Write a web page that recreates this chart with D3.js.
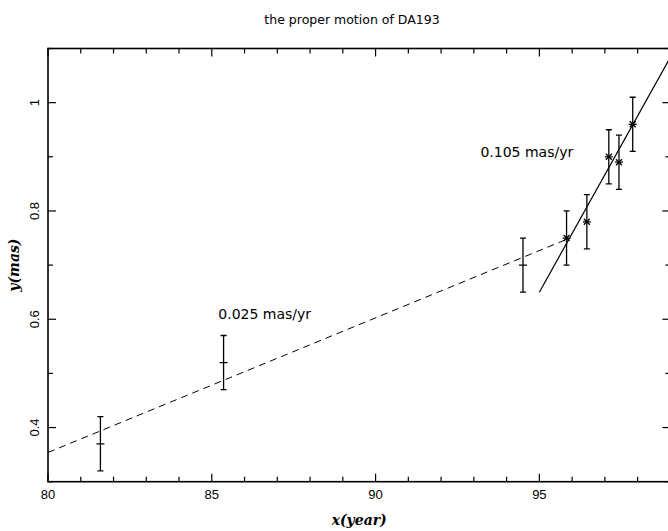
<!DOCTYPE html>
<html>
<head>
<script src="https://d3js.org/d3.v7.js"></script>
<style>
  body { margin: 0; background: #fff; }
  text { font-family: "Liberation Sans", Arial, sans-serif; fill: #000; }
  .note { font-family: "DejaVu Sans", sans-serif; }
  .axtitle { font-family: "DejaVu Serif", serif; font-style: italic; font-weight: bold; font-size: 14px; }
</style>
</head>
<body>
<script>
// measurements (year, mas) with +/- error
const years = [81.6, 85.36, 94.5, 95.83, 96.45, 97.12, 97.43, 97.85]
const mas = [0.37, 0.52, 0.70, 0.75, 0.78, 0.90, 0.89, 0.96]
const errs = [0.05, 0.05, 0.05, 0.05, 0.05, 0.05, 0.05, 0.05]
const markers = ['+', '+', '+', '*', '*', '*', '*', '*']

// fitted lines
const slowFit = [[80, 0.354], [95.93, 0.75]]
const fastFit = [[95, 0.65], [99, 1.084]]

const labels = [
  { x: 85.2, y: 0.6, text: '0.025 mas/yr' },
  { x: 93.2, y: 0.9, text: '0.105 mas/yr' }
]

const xMajor = [80, 85, 90, 95]
const yMajor = [0.4, 0.6, 0.8, 1]

const w = 668, h = 531
const x = d3.scaleLinear().domain([80, 99]).range([48, 670.4])
const y = d3.scaleLinear().domain([0.3, 1.1]).range([481.7, 48.5])

const svg = d3.select('body').append('svg').attr('width', w).attr('height', h)

const x0 = x.range()[0], x1 = x.range()[1]
const y0 = y.range()[0], y1 = y.range()[1]

svg.append('defs').append('clipPath').attr('id', 'clip')
  .append('rect').attr('x', x0).attr('y', y1).attr('width', x1 - x0).attr('height', y0 - y1)

// ticks, pointing inward on all sides
const xMinor = d3.range(80, 100, 1)
const yMinor = d3.range(3, 12, 1).map(d => d / 10)
const ticks = svg.append('g').attr('stroke', '#000').attr('stroke-width', 1.2)
xMinor.forEach(v => {
  const len = xMajor.includes(v) ? 8 : 5
  ticks.append('line').attr('x1', x(v)).attr('x2', x(v)).attr('y1', y0).attr('y2', y0 - len)
  ticks.append('line').attr('x1', x(v)).attr('x2', x(v)).attr('y1', y1).attr('y2', y1 + len)
})
yMinor.forEach(v => {
  const len = yMajor.some(m => Math.abs(m - v) < 1e-6) ? 8 : 5
  ticks.append('line').attr('y1', y(v)).attr('y2', y(v)).attr('x1', x0).attr('x2', x0 + len)
  ticks.append('line').attr('y1', y(v)).attr('y2', y(v)).attr('x1', x1).attr('x2', x1 - len)
})

svg.append('rect').attr('x', x0).attr('y', y1).attr('width', x1 - x0).attr('height', y0 - y1)
  .attr('fill', 'none').attr('stroke', '#000').attr('stroke-width', 1.6)

// tick labels
svg.selectAll('.xl').data(xMajor).enter().append('text')
  .attr('x', d => x(d)).attr('y', 499).attr('text-anchor', 'middle')
  .attr('font-size', 13).text(d => d)
svg.selectAll('.yl').data(yMajor).enter().append('text')
  .attr('transform', d => `translate(39,${y(d)}) rotate(-90)`)
  .attr('text-anchor', 'middle').attr('font-size', 13).text(d => d)

// titles
svg.append('text').attr('class', 'note').attr('x', 352).attr('y', 24).attr('text-anchor', 'middle')
  .attr('font-size', 12.5).text('the proper motion of DA193')
svg.append('text').attr('class', 'axtitle').attr('x', (x0 + x1) / 2).attr('y', 525)
  .attr('text-anchor', 'middle').text('x(year)')
svg.append('text').attr('class', 'axtitle')
  .attr('transform', `translate(19,${(y0 + y1) / 2}) rotate(-90)`)
  .attr('text-anchor', 'middle').text('y(mas)')

const plot = svg.append('g').attr('clip-path', 'url(#clip)')
const line = d3.line().x(d => x(d[0])).y(d => y(d[1]))

plot.append('path').datum(slowFit).attr('d', line).attr('fill', 'none')
  .attr('stroke', '#000').attr('stroke-width', 1).attr('stroke-dasharray', '7,5')
plot.append('path').datum(fastFit).attr('d', line).attr('fill', 'none')
  .attr('stroke', '#000').attr('stroke-width', 1.2)

// error bars
const pts = years.map((d, i) => ({ x: d, y: mas[i], e: errs[i], m: markers[i] }))
const eb = plot.append('g').attr('stroke', '#000').attr('stroke-width', 1.3)
pts.forEach(p => {
  eb.append('line').attr('x1', x(p.x)).attr('x2', x(p.x)).attr('y1', y(p.y - p.e)).attr('y2', y(p.y + p.e))
  ;[p.y - p.e, p.y + p.e].forEach(v => {
    eb.append('line').attr('x1', x(p.x) - 3).attr('x2', x(p.x) + 3).attr('y1', y(v)).attr('y2', y(v))
  })
  const cx = x(p.x), cy = y(p.y)
  eb.append('line').attr('x1', cx - 4).attr('x2', cx + 4).attr('y1', cy).attr('y2', cy)
  if (p.m === '*') {
    eb.append('line').attr('x1', cx - 3).attr('x2', cx + 3).attr('y1', cy - 3).attr('y2', cy + 3)
    eb.append('line').attr('x1', cx - 3).attr('x2', cx + 3).attr('y1', cy + 3).attr('y2', cy - 3)
  }
})

svg.selectAll('.lab').data(labels).enter().append('text')
  .attr('class', 'note')
  .attr('x', d => x(d.x)).attr('y', d => y(d.y)).attr('font-size', 14)
  .text(d => d.text)
</script>
</body>
</html>
